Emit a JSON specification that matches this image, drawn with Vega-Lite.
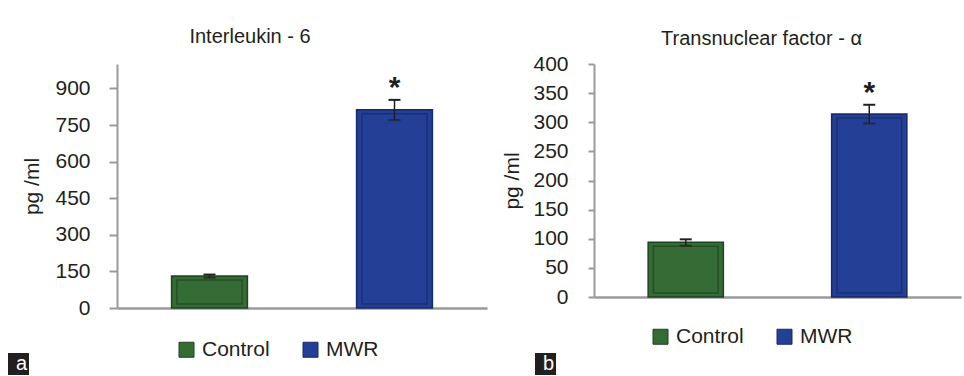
{
  "$schema": "https://vega.github.io/schema/vega-lite/v6.json",
  "padding": {"left": 8, "top": 27, "right": 4, "bottom": 0},
  "spacing": 14,
  "background": "#ffffff",
  "config": {
    "font": "Liberation Sans",
    "view": {"stroke": null},
    "axis": {"labelFont": "Liberation Sans", "titleFont": "Liberation Sans", "labelColor": "#231f20", "titleColor": "#231f20", "domainColor": "#9a9a9c", "tickColor": "#9a9a9c", "grid": false, "titleFontWeight": "normal", "labelOverlap": false},
    "axisY": {"labelOverlap": false},
    "axisQuantitative": {"labelOverlap": false},
    "title": {"font": "Liberation Sans", "fontSize": 20, "fontWeight": "normal", "color": "#231f20"},
    "legend": {"labelFont": "Liberation Sans"}
  },
  "datasets": {
    "il6": [
      {"panel": "a", "group": "Control", "mean": 131, "lo": 124, "hi": 137, "star": ""},
      {"panel": "a", "group": "MWR", "mean": 812, "lo": 770, "hi": 853, "star": "*"}
    ],
    "tnf": [
      {"panel": "b", "group": "Control", "mean": 94, "lo": 88, "hi": 99, "star": ""},
      {"panel": "b", "group": "MWR", "mean": 314, "lo": 298, "hi": 330, "star": "*"}
    ]
  },
  "resolve": {
    "scale": {"x": "independent", "y": "independent", "fill": "independent", "stroke": "independent", "opacity": "independent"},
    "legend": {"fill": "independent", "stroke": "independent", "opacity": "independent"}
  },
  "hconcat": [
    {
      "width": 370,
      "height": 244,
      "title": {"text": "Interleukin - 6", "offset": 17, "dx": -52},
      "data": {"name": "il6"},
      "encoding": {
        "x": {"field": "group", "type": "nominal", "sort": ["Control", "MWR"], "scale": {"paddingInner": 0.59, "paddingOuter": 0.295}, "axis": {"title": null, "labels": false, "ticks": false, "domainWidth": 2.5}}
      },
      "layer": [
        {
          "mark": {"type": "bar", "strokeWidth": 1.5},
          "encoding": {
            "y": {"field": "mean", "type": "quantitative", "scale": {"domain": [0, 1000], "nice": false}, "axis": {"values": [0, 150, 300, 450, 600, 750, 900], "title": "pg /ml", "labelFontSize": 21, "titleFontSize": 21, "labelPadding": 19, "tickSize": 8, "tickWidth": 2, "domainWidth": 2, "titlePadding": 12, "labelOverlap": false}},
            "fill": {"field": "group", "type": "nominal", "scale": {"domain": ["Control", "MWR"], "range": ["#356b35", "#233f96"]}, "legend": {"title": null, "orient": "none", "legendX": 59, "legendY": 275, "direction": "horizontal", "symbolType": "square", "symbolSize": 225, "symbolStrokeWidth": 1, "labelFontSize": 21, "labelColor": "#231f20", "labelOffset": 5, "columnPadding": 30}},
            "stroke": {"field": "group", "type": "nominal", "scale": {"domain": ["Control", "MWR"], "range": ["#1f4420", "#172a6a"]}, "legend": {"title": null, "orient": "none", "legendX": 59, "legendY": 275, "direction": "horizontal", "symbolType": "square", "symbolSize": 225, "symbolStrokeWidth": 1, "labelFontSize": 21, "labelColor": "#231f20", "labelOffset": 5, "columnPadding": 30}}
          }
        },
        {
          "mark": {"type": "bar", "width": {"band": 0.86}, "fillOpacity": 0, "strokeWidth": 1.5, "strokeOpacity": 0.7, "yOffset": 4, "y2Offset": -4},
          "encoding": {
            "y": {"field": "mean", "type": "quantitative", "stack": null},
            "y2": {"datum": 0},
            "stroke": {"field": "group", "type": "nominal"}
          }
        },
        {
          "mark": {"type": "rule", "strokeWidth": 1.5, "color": "#231f20"},
          "encoding": {"y": {"field": "lo", "type": "quantitative"}, "y2": {"field": "hi"}}
        },
        {
          "mark": {"type": "tick", "orient": "horizontal", "size": 12, "thickness": 2, "color": "#231f20"},
          "encoding": {"y": {"field": "lo", "type": "quantitative"}}
        },
        {
          "mark": {"type": "tick", "orient": "horizontal", "size": 12, "thickness": 2, "color": "#231f20"},
          "encoding": {
            "y": {"field": "hi", "type": "quantitative"},
            "opacity": {"field": "panel", "type": "ordinal", "scale": {"range": [1, 1]}, "legend": {"title": null, "orient": "none", "legendX": -109, "legendY": 289, "fillColor": "#231f20", "padding": 1, "labelColor": "#ffffff", "labelFontSize": 20, "symbolType": "square", "symbolSize": 16, "symbolFillColor": "#231f20", "symbolStrokeColor": "#231f20", "symbolStrokeWidth": 0, "labelOffset": -13}}
          }
        },
        {
          "mark": {"type": "text", "fontSize": 30, "fontWeight": "bold", "baseline": "alphabetic", "dy": -3, "color": "#231f20"},
          "encoding": {"y": {"field": "hi", "type": "quantitative"}, "text": {"field": "star"}}
        }
      ]
    },
    {
      "width": 367,
      "height": 233,
      "title": {"text": "Transnuclear factor - α", "offset": 4, "dx": -16},
      "data": {"name": "tnf"},
      "encoding": {
        "x": {"field": "group", "type": "nominal", "sort": ["Control", "MWR"], "scale": {"paddingInner": 0.59, "paddingOuter": 0.295}, "axis": {"title": null, "labels": false, "ticks": false, "domainWidth": 2.5}},
        "y": {"type": "quantitative", "scale": {"domain": [0, 400], "nice": false}, "axis": {"values": [0, 50, 100, 150, 200, 250, 300, 350, 400], "title": "pg /ml", "labelFontSize": 21, "titleFontSize": 21, "labelPadding": 20, "tickSize": 6, "tickWidth": 2, "domainWidth": 2, "titlePadding": 10, "labelOverlap": false, "labelSeparation": 0}}
      },
      "layer": [
        {
          "mark": {"type": "bar", "strokeWidth": 1.5},
          "encoding": {
            "y": {"field": "mean", "type": "quantitative", "scale": {"domain": [0, 400], "nice": false}, "axis": {"values": [0, 50, 100, 150, 200, 250, 300, 350, 400], "title": "pg /ml", "labelFontSize": 21, "titleFontSize": 21, "labelPadding": 20, "tickSize": 6, "tickWidth": 2, "domainWidth": 2, "titlePadding": 10, "labelOverlap": false, "labelSeparation": 0}},
            "fill": {"field": "group", "type": "nominal", "scale": {"domain": ["Control", "MWR"], "range": ["#356b35", "#233f96"]}, "legend": {"title": null, "orient": "none", "legendX": 56, "legendY": 262, "direction": "horizontal", "symbolType": "square", "symbolSize": 225, "symbolStrokeWidth": 1, "labelFontSize": 21, "labelColor": "#231f20", "labelOffset": 5, "columnPadding": 30}},
            "stroke": {"field": "group", "type": "nominal", "scale": {"domain": ["Control", "MWR"], "range": ["#1f4420", "#172a6a"]}, "legend": {"title": null, "orient": "none", "legendX": 56, "legendY": 262, "direction": "horizontal", "symbolType": "square", "symbolSize": 225, "symbolStrokeWidth": 1, "labelFontSize": 21, "labelColor": "#231f20", "labelOffset": 5, "columnPadding": 30}}
          }
        },
        {
          "mark": {"type": "bar", "width": {"band": 0.86}, "fillOpacity": 0, "strokeWidth": 1.5, "strokeOpacity": 0.7, "yOffset": 4, "y2Offset": -4},
          "encoding": {
            "y": {"field": "mean", "type": "quantitative", "stack": null},
            "y2": {"datum": 0},
            "stroke": {"field": "group", "type": "nominal"}
          }
        },
        {
          "mark": {"type": "rule", "strokeWidth": 1.5, "color": "#231f20"},
          "encoding": {"y": {"field": "lo", "type": "quantitative"}, "y2": {"field": "hi"}}
        },
        {
          "mark": {"type": "tick", "orient": "horizontal", "size": 12, "thickness": 2, "color": "#231f20"},
          "encoding": {"y": {"field": "lo", "type": "quantitative"}}
        },
        {
          "mark": {"type": "tick", "orient": "horizontal", "size": 12, "thickness": 2, "color": "#231f20"},
          "encoding": {
            "y": {"field": "hi", "type": "quantitative"},
            "opacity": {"field": "panel", "type": "ordinal", "scale": {"range": [1, 1]}, "legend": {"title": null, "orient": "none", "legendX": -59, "legendY": 289, "fillColor": "#231f20", "padding": 1, "labelColor": "#ffffff", "labelFontSize": 20, "symbolType": "square", "symbolSize": 16, "symbolFillColor": "#231f20", "symbolStrokeColor": "#231f20", "symbolStrokeWidth": 0, "labelOffset": -13}}
          }
        },
        {
          "mark": {"type": "text", "fontSize": 30, "fontWeight": "bold", "baseline": "alphabetic", "dy": -3, "color": "#231f20"},
          "encoding": {"y": {"field": "hi", "type": "quantitative"}, "text": {"field": "star"}}
        }
      ]
    }
  ]
}
